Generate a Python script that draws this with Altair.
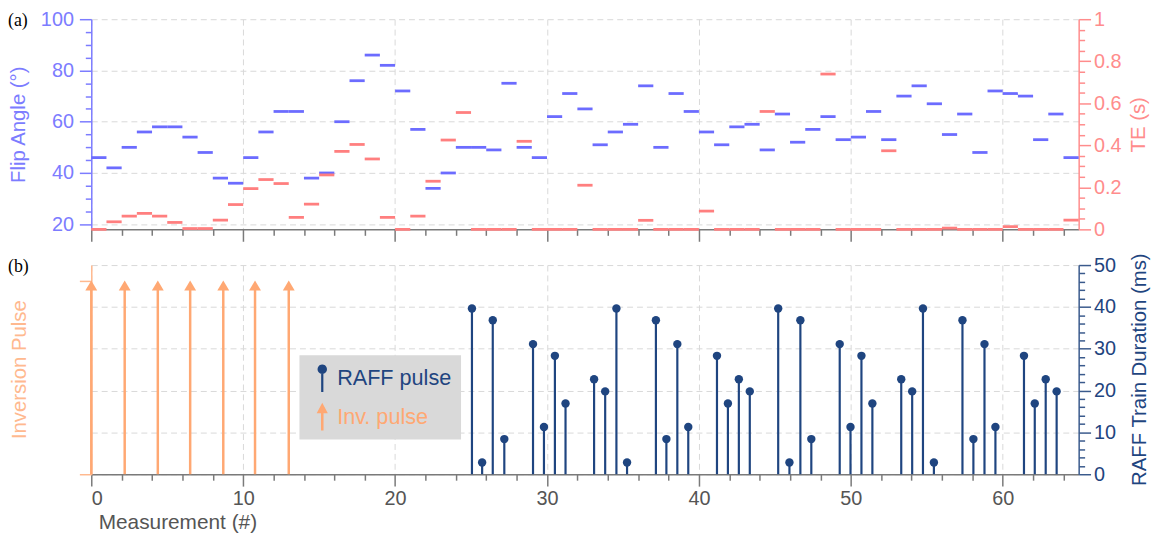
import math
import altair as alt
import pandas as pd

# ---------------- data ----------------
flip_angle = [46, 42, 50, 56, 58, 58, 54, 48, 38, 36,
              46, 56, 64, 64, 38, 40, 60, 76, 86, 82,
              72, 57, 34, 40, 50, 50, 49, 75, 50, 46,
              62, 71, 65, 51, 56, 59, 74, 50, 71, 64,
              56, 51, 58, 59, 49, 63, 52, 57, 62, 53,
              54, 64, 53, 70, 74, 67, 55, 63, 48, 72,
              71, 70, 53, 63, 46]
te_s = [0.0, 0.036, 0.063, 0.076, 0.063, 0.033, 0.004, 0.004, 0.044, 0.118,
        0.194, 0.237, 0.218, 0.057, 0.12, 0.259, 0.371, 0.404, 0.335, 0.057,
        0.0, 0.063, 0.229, 0.425, 0.556, 0.0, 0.0, 0.0, 0.419, 0.0,
        0.0, 0.0, 0.21, 0.0, 0.0, 0.0, 0.043, 0.0, 0.0, 0.0,
        0.087, 0.0, 0.0, 0.0, 0.561, 0.0, 0.0, 0.0, 0.739, 0.0,
        0.0, 0.0, 0.374, 0.0, 0.0, 0.0, 0.006, 0.0, 0.0, 0.0,
        0.013, 0.0, 0.0, 0.0, 0.044]
raff_x = [25.06, 25.73, 26.43, 27.19, 29.08, 29.80, 30.52, 31.22,
          33.10, 33.83, 34.57, 35.27, 37.17, 37.86, 38.58, 39.30,
          41.19, 41.91, 42.63, 43.35, 45.22, 45.96, 46.68, 47.40,
          49.27, 49.98, 50.70, 51.42, 53.32, 54.04, 54.75, 55.47,
          57.35, 58.07, 58.80, 59.52, 61.40, 62.11, 62.83, 63.55]
raff_ms = [39.6, 2.8, 36.8, 8.4, 31.1, 11.3, 28.3, 16.9, 22.7, 19.8,
           39.6, 2.8, 36.8, 8.4, 31.1, 11.3, 28.3, 16.9, 22.7, 19.8,
           39.6, 2.8, 36.8, 8.4, 31.1, 11.3, 28.3, 16.9, 22.7, 19.8,
           39.6, 2.8, 36.8, 8.4, 31.1, 11.3, 28.3, 16.9, 22.7, 19.8]
inv_x = [0.0, 2.20, 4.38, 6.51, 8.69, 10.78, 13.0]
legend_labels = ["RAFF pulse", "Inv. pulse"]

x_ticks = list(range(0, 65, 2))
flip_ticks = list(range(20, 101, 5))
te_ticks = [round(i * 0.05, 2) for i in range(21)]
raff_ticks = list(range(0, 51, 2))

# ---------------- styles ----------------
FONT = "Liberation Sans"
BLUE = "#6c6cff"
BLUE_AX = "#7c7cff"
RED = "#ff7f7f"
RED_AX = "#ff8c8c"
NAVY = "#1f4580"
NAVY_AX = "#3a5a8c"
ORANGE = "#ffa873"
ORANGE_AX = "#ffb98f"
GRAY_AX = "#7a7a7a"
GRID = "#d9d9d9"
LABEL_GRAY = "#555555"
LBL = 20      # tick label size
TTL = 20.5    # axis title size

# legend symbols (unit-square custom paths): pin = round head + stem, arrow
_circ = " ".join(
    ("M" if k == 0 else "L") + "%.3f,%.3f" % (0.34 * math.cos(2 * math.pi * k / 20),
                                            -0.64 + 0.34 * math.sin(2 * math.pi * k / 20))
    for k in range(20)) + "Z"
PIN = _circ + " M-0.08,-0.45L0.08,-0.45L0.08,1L-0.08,1Z"
ARROW = "M0,-1L0.4,-0.26L0.09,-0.26L0.09,1L-0.09,1L-0.09,-0.26L-0.4,-0.26Z"
HEAD = "M0,0L0.6,1L-0.6,1Z"


def cond(test, a, b):
    return {"condition": {"test": test, "value": a}, "value": b}


xscale = alt.Scale(domain=[0, 65], nice=False, zero=False)

common_x = dict(values=x_ticks, domainColor=GRAY_AX, tickColor=GRAY_AX,
                tickSize=cond("datum.value % 10 == 0", 12, 6),
                grid=True, gridColor=GRID, gridDash=[6, 4],
                gridOpacity=cond("datum.value % 10 == 0", 1, 0))
xax_top = alt.Axis(labels=False, title=None, **common_x)
xax_bot = alt.Axis(labels=True, labelExpr="datum.value % 10 == 0 ? datum.label : ''",
                   labelColor=LABEL_GRAY, labelFontSize=LBL, labelPadding=3,
                   title="Measurement (#)", titleColor=LABEL_GRAY, titleFontSize=21,
                   titleX=7, titleY=55, titleAlign="left", titleBaseline="alphabetic",
                   **common_x)

flip_axis = alt.Axis(orient="left", values=flip_ticks,
                     labelExpr="datum.value % 20 == 0 ? datum.label : ''",
                     labelColor=BLUE_AX, labelFontSize=LBL, labelPadding=6,
                     tickSize=cond("datum.value % 20 == 0", 12, 6),
                     domainColor=BLUE_AX, tickColor=BLUE_AX,
                     grid=True, gridColor=GRID, gridDash=[6, 4],
                     gridOpacity=cond("datum.value % 20 == 0", 1, 0),
                     title="Flip Angle (°)", titleColor=BLUE_AX, titleFontSize=TTL,
                     titleAngle=270, titleBaseline="middle", titleX=-73, titleY=106)
te_axis = alt.Axis(orient="right", values=te_ticks,
                   labelExpr="round(datum.value*100) % 20 == 0 ? format(datum.value, '~g') : ''",
                   labelColor=RED_AX, labelFontSize=LBL, labelPadding=3,
                   tickSize=cond("round(datum.value*100) % 20 == 0", 12, 6),
                   domainColor=RED_AX, tickColor=RED_AX, grid=False,
                   title="TE (s)", titleColor=RED_AX, titleFontSize=TTL,
                   titleAngle=270, titleBaseline="middle", titleX=60, titleY=106)
inv_axis = alt.Axis(orient="left", values=[0, 1], labels=False, tickSize=12,
                    domainColor=ORANGE_AX, tickColor=ORANGE_AX, grid=False,
                    title="Inversion Pulse", titleColor=ORANGE_AX, titleFontSize=TTL,
                    titleAngle=270, titleBaseline="middle", titleX=-72, titleY=105)
raff_axis = alt.Axis(orient="right", values=raff_ticks,
                     labelExpr="datum.value % 10 == 0 ? datum.label : ''",
                     labelColor=NAVY, labelFontSize=LBL, labelPadding=3,
                     tickSize=cond("datum.value % 10 == 0", 12, 6),
                     domainColor=NAVY_AX, tickColor=NAVY_AX,
                     grid=True, gridColor=GRID, gridDash=[6, 4],
                     gridOpacity=cond("datum.value % 10 == 0", 1, 0),
                     title="RAFF Train Duration (ms)", titleColor=NAVY, titleFontSize=TTL,
                     titleAngle=270, titleBaseline="middle", titleX=61, titleY=105)

# ---------------- top panel ----------------
n = len(flip_angle)
seg = pd.DataFrame({"start": list(range(n)), "end": list(range(1, n + 1)),
                    "flip": flip_angle, "te": te_s})

blue = alt.Chart(seg).mark_rule(color=BLUE, strokeWidth=2.8).encode(
    x=alt.X("start:Q", scale=xscale, axis=xax_top), x2="end:Q",
    y=alt.Y("flip:Q", scale=alt.Scale(domain=[18, 100], nice=False, zero=False), axis=flip_axis))
red = alt.Chart(seg).mark_rule(color=RED, strokeWidth=2.8).encode(
    x=alt.X("start:Q", scale=xscale, axis=xax_top), x2="end:Q",
    y=alt.Y("te:Q", scale=alt.Scale(domain=[0, 1], nice=False), axis=te_axis))
lab_a = alt.Chart(pd.DataFrame({"t": ["(a)"]})).mark_text(
    font="Liberation Serif", fontSize=18, align="left", baseline="middle", color="black"
).encode(text="t:N", x=alt.value(-84), y=alt.value(2))

top = alt.layer(blue, red, lab_a).resolve_scale(y="independent").properties(width=996, height=212)

# ---------------- bottom panel ----------------
inv_df = pd.DataFrame({"x": inv_x})
inv_df["base"] = 0.0
inv_df["stem"] = 0.97
inv_df["tip"] = 1.0
inv_scale = alt.Scale(domain=[0, 1.08], nice=False)

inv_rule = alt.Chart(inv_df).mark_rule(color=ORANGE, strokeWidth=2.5).encode(
    x=alt.X("x:Q", scale=xscale, axis=xax_bot),
    y=alt.Y("base:Q", scale=inv_scale, axis=inv_axis), y2="stem:Q")
inv_head = alt.Chart(inv_df).mark_point(shape=HEAD, filled=True, size=400, color=ORANGE,
                                         opacity=1, strokeWidth=0).encode(
    x=alt.X("x:Q", scale=xscale, axis=xax_bot),
    y=alt.Y("tip:Q", scale=inv_scale, axis=inv_axis))

raff_df = pd.DataFrame({"x": raff_x, "ms": raff_ms})
raff_df["zero"] = 0.0
raff_scale = alt.Scale(domain=[0, 50], nice=False)
raff_rule = alt.Chart(raff_df).mark_rule(color=NAVY, strokeWidth=2.2).encode(
    x=alt.X("x:Q", scale=xscale, axis=xax_bot),
    y=alt.Y("zero:Q", scale=raff_scale, axis=raff_axis), y2="ms:Q")
raff_dot = alt.Chart(raff_df).mark_circle(color=NAVY, size=72, opacity=1).encode(
    x=alt.X("x:Q", scale=xscale, axis=xax_bot),
    y=alt.Y("ms:Q", scale=raff_scale, axis=raff_axis))

leg = alt.Legend(orient="none", legendX=210, legendY=91, title=None,
                 fillColor="#d9d9d9", padding=9, rowPadding=11, symbolSize=784,
                 labelFont=FONT, labelFontSize=21.8, labelOffset=1, labelLimit=300,
                 labelColor={"expr": "datum.label == 'RAFF pulse' ? '%s' : '%s'" % (NAVY, ORANGE)},
                 symbolStrokeWidth=0, symbolOpacity=1)
# helper layer that only carries the legend: its points sit outside the clipped plot area
legend_layer = alt.Chart(pd.DataFrame({"kind": legend_labels})).mark_point(
    filled=True, size=784, opacity=1, clip=True).encode(
    x=alt.value(-3000), y=alt.value(-3000),
    color=alt.Color("kind:N", scale=alt.Scale(domain=legend_labels, range=[NAVY, ORANGE]), legend=leg),
    shape=alt.Shape("kind:N", scale=alt.Scale(domain=legend_labels, range=[PIN, ARROW]), legend=leg))

lab_b = alt.Chart(pd.DataFrame({"t": ["(b)"]})).mark_text(
    font="Liberation Serif", fontSize=18, align="left", baseline="middle", color="black"
).encode(text="t:N", x=alt.value(-84), y=alt.value(2))

bottom = alt.layer(alt.layer(inv_rule, inv_head), alt.layer(raff_rule, raff_dot),
                   legend_layer, lab_b).resolve_scale(y="independent").properties(width=996, height=211)

chart = alt.vconcat(top, bottom, spacing=36, bounds="flush").resolve_scale(
    color="independent", shape="independent"
).resolve_legend(color="independent", shape="independent").properties(
    padding={"left": 0, "top": -1, "right": 5, "bottom": 0}
).configure_view(stroke=None).configure_axis(
    labelFont=FONT, titleFont=FONT, titleFontWeight="normal",
    domainWidth=1.5, tickWidth=1.5
)

chart.save("out.html", embed_options={"renderer": "svg", "actions": False})
